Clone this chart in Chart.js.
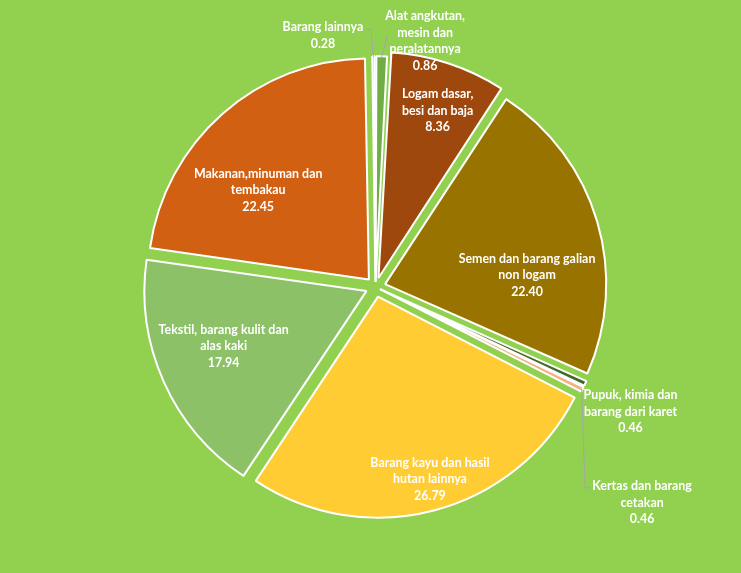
<!DOCTYPE html>
<html>
<head>
<meta charset="utf-8">
<script src="https://cdn.jsdelivr.net/npm/chart.js@4.4.1/dist/chart.umd.min.js"></script>
<style>
  html, body { margin: 0; padding: 0; background: #92D050; }
  #wrap { width: 741px; height: 573px; }
</style>
</head>
<body>
<div id="wrap"><canvas id="pieChart" width="741" height="573"></canvas></div>
<script>
// data, clockwise from 12 o'clock
const categories = [
  ["Alat angkutan,", "mesin dan", "peralatannya"],
  ["Logam dasar,", "besi dan baja"],
  ["Semen dan barang galian", "non logam"],
  ["Pupuk, kimia dan", "barang dari karet"],
  ["Kertas dan barang", "cetakan"],
  ["Barang kayu dan hasil", "hutan lainnya"],
  ["Tekstil, barang kulit dan", "alas kaki"],
  ["Makanan,minuman dan", "tembakau"],
  ["Barang lainnya"]
];
const shares = [0.86, 8.36, 22.40, 0.46, 0.46, 26.79, 17.94, 22.45, 0.28];

const sliceColors = ["#70AD47", "#9E480E", "#997300", "#43682B", "#F4B183",
                     "#FFCD33", "#8CC168", "#D26012", "#FFC000"];
// chart.js arc offset (moves slice by offset/4)
const explode = [20, 38, 40, 20, 20, 40, 40, 40, 20];

// label block placement: angle (deg, clockwise from north) and distance from centre
const labelAngle = [11.4, 19.4, 85.5, 116.1, 129.0, 164.2, 248.7, 309.5, 348.2];
const labelDist = [251, 187, 152, 284, 343, 200, 163, 152, 257];
// leader lines: [elbowDx, elbowDy, endDx] relative to label centre
const leaders = [[-38, -5, -38], null, null, null, [-57, -15, -51], null, null, null, [48, -6, 43]];

const LINE_H = 16.5;
const LABEL_FONT = "bold 12.4px Lato, 'Open Sans', sans-serif";

const labelPlugin = {
  id: "sliceLabels",
  afterDatasetsDraw(chart) {
    const ctx = chart.ctx;
    const arcs = chart.getDatasetMeta(0).data;
    const cx = arcs[0].x;
    const cy = arcs[0].y;

    ctx.save();
    ctx.font = LABEL_FONT;
    ctx.textAlign = "center";
    ctx.textBaseline = "middle";

    arcs.forEach((arc, i) => {
      const a = labelAngle[i] * Math.PI / 180;
      const lx = cx + Math.sin(a) * labelDist[i];
      const ly = cy - Math.cos(a) * labelDist[i];

      const lead = leaders[i];
      if (lead) {
        const mid = (arc.startAngle + arc.endAngle) / 2;
        const edge = arc.outerRadius + explode[i] / 2 - 1;
        ctx.strokeStyle = "#A6A6A6";
        ctx.lineWidth = 1;
        ctx.beginPath();
        ctx.moveTo(cx + Math.cos(mid) * edge, cy + Math.sin(mid) * edge);
        ctx.lineTo(lx + lead[0], ly + lead[1]);
        ctx.lineTo(lx + lead[2], ly + lead[1]);
        ctx.stroke();
      }

      const lines = categories[i].concat([shares[i].toFixed(2)]);
      ctx.fillStyle = "#FFFFFF";
      lines.forEach((txt, k) => {
        ctx.fillText(txt, lx, ly + (k - (lines.length - 1) / 2) * LINE_H);
      });
    });
    ctx.restore();
  }
};

const ctx = document.getElementById("pieChart").getContext("2d");

new Chart(ctx, {
  type: "pie",
  data: {
    labels: categories.map(c => c.join(" ")),
    datasets: [
      {
        data: shares,
        backgroundColor: sliceColors,
        borderColor: "#FFFFFF",
        borderWidth: 2,
        offset: explode
      }
    ]
  },
  options: {
    responsive: false,
    animation: false,
    radius: 221,
    layout: {
      padding: { left: 10, right: 0, top: 1, bottom: 0 }
    },
    plugins: {
      legend: { display: false },
      tooltip: { enabled: false }
    }
  },
  plugins: [labelPlugin]
});
</script>
</body>
</html>
